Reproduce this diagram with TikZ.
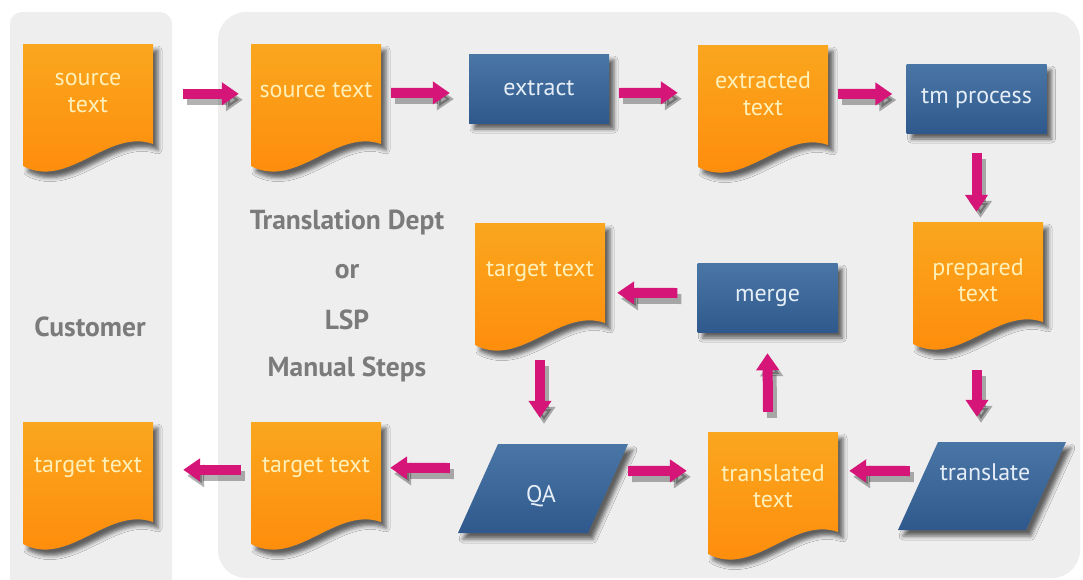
\documentclass[tikz,border=0pt]{standalone}
\usepackage{fontspec}
\setmainfont{PT Sans}
\usetikzlibrary{calc,arrows.meta,shadows.blur}

\definecolor{panelgray}{HTML}{EEEEEE}
\definecolor{labelgray}{HTML}{7B7B7B}
\definecolor{orangeT}{HTML}{FAA61E}
\definecolor{orangeB}{HTML}{FF8A0A}
\definecolor{docink}{HTML}{FFF0B8}
\definecolor{blueT}{HTML}{4A76A6}
\definecolor{blueB}{HTML}{2F598C}
\definecolor{blueink}{HTML}{E6EEF8}
\definecolor{flowmag}{HTML}{D61578}

\tikzset{
  softshadow/.style={blur shadow={shadow xshift=5pt, shadow yshift=-6pt,
      shadow blur radius=4pt, shadow opacity=60}},
  docbody/.style={top color=orangeT, bottom color=orangeB, draw=none, softshadow},
  docframe/.style={rectangle, draw=none, inner sep=0pt,
      minimum width=130pt, minimum height=122pt},
  doctext/.style={align=center, text=docink, inner sep=0pt,
      font=\fontsize{24}{26.5}\selectfont},
  procbox/.style={rectangle, draw=none, top color=blueT, bottom color=blueB,
      text=blueink, minimum width=140pt, minimum height=69pt, inner sep=0pt,
      font=\fontsize{24}{27}\selectfont, softshadow},
  parabody/.style={top color=blueT, bottom color=blueB, draw=none, softshadow},
  paraframe/.style={rectangle, draw=none, inner sep=0pt},
  paratext/.style={text=blueink, inner sep=0pt, font=\fontsize{24}{27}\selectfont},
  lbl/.style={text=labelgray, font=\fontsize{27.5}{30}\selectfont\bfseries},
  flow/.style={draw=flowmag, line width=10pt,
      -{Triangle[width=22pt,length=17pt]},
      preaction={draw=black, opacity=.3, line width=10pt,
        -{Triangle[width=22pt,length=17pt]},
        transform canvas={shift={(4pt,-6pt)}}}},
}

% document shape: #1 name, #2 left, #3 top, #4 text, #5 text offset from top
\newcommand\docat[5]{%
  \path[docbody] (#2,#3) -- ({#2+130},#3) -- ({#2+130},{#3+100})
    .. controls ({#2+85},{#3+84}) and ({#2+45},{#3+146}) .. (#2,{#3+122}) -- cycle;
  \node[docframe] (#1) at ({#2+65},{#3+61}) {};
  \node[doctext] (#1-t) at ({#2+65},{#3+#5}) {#4};
}

% parallelogram: #1 name, #2 bottom-left x, #3 bottom y, #4 top y,
% #5 width, #6 slant, #7 text, #8 text x, #9 text y
\newcommand\paraat[9]{%
  \path[parabody] (#2,#3) -- ({#2+#5},#3) -- ({#2+#5+#6},#4) -- ({#2+#6},#4) -- cycle;
  \node[paraframe, minimum width={(#5+#6)*1pt}, minimum height={(#3-#4)*1pt}]
    (#1) at ({#2+(#5+#6)/2},{(#3+#4)/2}) {};
  \node[paratext] (#1-t) at (#8,#9) {#7};
}

\begin{document}
\begin{tikzpicture}[x=1pt, y=-1pt]
  \clip (0,0) rectangle (1083,579);
  \fill[white] (0,0) rectangle (1083,579);

  % customer lane and department lane
  \fill[panelgray, rounded corners=12pt] (10,12) rectangle (172,610);
  \fill[panelgray, rounded corners=28pt] (218,12) rectangle (1080,578);

  % lane labels
  \node[lbl] (cust) at (90,327) {Customer};
  \node[lbl] (dept) at (347,222) {Translation Dept};
  \node[lbl] (or)   at (347,272) {or};
  \node[lbl] (lsp)  at (347,320) {LSP};
  \node[lbl] (man)  at (347,369) {Manual Steps};

  % documents
  \docat{cst}{23}{44}{source\\text}{49}
  \docat{src}{251}{44}{source text}{46}
  \docat{ext}{698}{45}{extracted\\text}{48.5}
  \docat{prep}{913}{222}{prepared\\text}{58}
  \docat{tgtm}{475}{223}{target text}{49}
  \docat{trd}{708}{432}{translated\\text}{54}
  \docat{tgt}{251}{422}{target text}{46}
  \docat{ctgt}{23}{422}{target text}{46}

  % processing steps
  \node[procbox] (ex) at (539,88.5) {extract};
  \node[procbox] (tm) at (976.5,98.5) {tm process};
  \node[procbox] (mg) at (767.5,297.5) {merge};
  \paraat{qa}{458}{533}{444}{130}{40}{QA}{541}{496}
  \paraat{tr}{898}{530}{442}{128}{40}{translate}{985}{472}

  % flow
  \draw[flow] ($(cst.north east)+(30,50)$) -- ($(src.north west)+(-12,50)$);
  \draw[flow] ($(src.north east)+(10,49)$) -- ($(ex.west)+(-19,4.5)$);
  \draw[flow] ($(ex.east)+(10,4.5)$) -- ($(ext.north west)+(-20,48)$);
  \draw[flow] ($(ext.north east)+(10,49)$) -- ($(tm.west)+(-14,-4.5)$);
  \draw[flow] ($(tm.south)+(0,20)$) -- ($(tm.south |- prep.north)+(0,-10)$);
  \draw[flow] ($(prep.south)+(-1,26)$) -- ($(prep.south |- tr.north)+(-1,-25)$);
  \draw[flow] ($(tr.west)+(12,-15)$) -- ($(trd.north east)+(11,39)$);
  \draw[flow] ($(trd.north)+(-5,-20)$) -- ($(mg.south)+(0,21)$);
  \draw[flow] ($(mg.west)+(-20,-4.5)$) -- ($(tgtm.north east)+(12,70)$);
  \draw[flow] ($(tgtm.south)+(0,15)$) -- ($(tgtm.south |- qa.north)+(0,-26)$);
  \draw[flow] ($(qa.east)+(0,-17.5)$) -- ($(trd.north west)+(-21,39)$);
  \draw[flow] ($(qa.west)+(-8,-20.5)$) -- ($(tgt.north east)+(9,46)$);
  \draw[flow] ($(tgt.north west)+(-10,48)$) -- ($(ctgt.north east)+(30,48)$);
\end{tikzpicture}
\end{document}
